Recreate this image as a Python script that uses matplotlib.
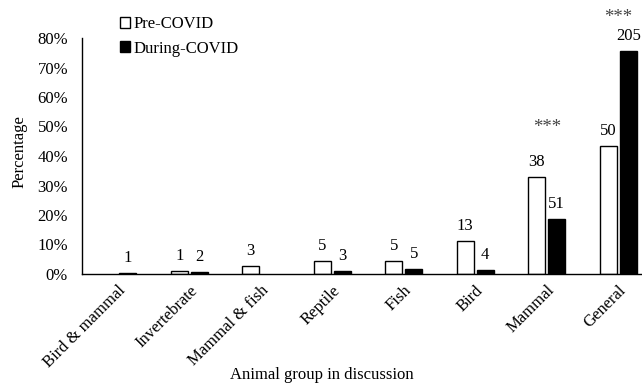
import matplotlib
matplotlib.use("Agg")
import matplotlib.pyplot as plt
from matplotlib.patches import Patch
import numpy as np

plt.rcParams['font.family'] = ['Liberation Serif', 'DejaVu Serif']

categories = ["Bird & mammal", "Invertebrate", "Mammal & fish", "Reptile",
              "Fish", "Bird", "Mammal", "General"]
pre_pct = [0.0, 0.87, 2.6, 4.35, 4.35, 11.3, 33.0, 43.5]
during_pct = [0.37, 0.74, 0.0, 1.1, 1.85, 1.48, 18.8, 75.6]
pre_counts = ["", "1", "3", "5", "5", "13", "38", "50"]
during_counts = ["1", "2", "", "3", "5", "4", "51", "205"]
yticks = [0, 10, 20, 30, 40, 50, 60, 70, 80]
ytick_labels = ["0%", "10%", "20%", "30%", "40%", "50%", "60%", "70%", "80%"]
star_cats = ["Mammal", "General"]
star_y = [49.5, 87.0]

W, H = 642, 383
fig = plt.figure(figsize=(W / 100, H / 100), dpi=100)
ax = fig.add_axes([82 / W, (H - 274) / H, 572 / W, 236 / H])

x = np.arange(len(categories))
bw = 0.24
off = 0.14
fs = 12
lw_pre = [1.0 if v > 0 else 0 for v in pre_pct]
lw_dur = [1.0 if v > 0 else 0 for v in during_pct]
ax.bar(x - off, pre_pct, bw, color="white", edgecolor="black", linewidth=lw_pre)
ax.bar(x + off, during_pct, bw, color="black", edgecolor="black", linewidth=lw_dur)

for xi, v, c in zip(x, pre_pct, pre_counts):
    if c:
        ax.annotate(c, (xi - off, v), xytext=(0, 5), textcoords="offset points",
                    ha="center", va="bottom", fontsize=fs, annotation_clip=False)
for xi, v, c in zip(x, during_pct, during_counts):
    if c:
        ax.annotate(c, (xi + off, v), xytext=(0, 5), textcoords="offset points",
                    ha="center", va="bottom", fontsize=fs, annotation_clip=False)

for cat, yv in zip(star_cats, star_y):
    i = categories.index(cat)
    ax.text(i, yv, "***", ha="center", va="center", fontsize=13.5,
            color="#444444", clip_on=False)

ax.set_xlim(-0.5, len(categories) - 0.5)
ax.set_ylim(0, 80)
ax.set_yticks(yticks)
ax.set_yticklabels(ytick_labels, fontsize=fs)
ax.set_xticks(x)
ax.set_xticklabels(categories, rotation=45, ha="right", rotation_mode="anchor",
                   fontsize=fs)
ax.tick_params(axis="both", length=0)
ax.tick_params(axis="y", pad=10)
ax.tick_params(axis="x", pad=6)
for s in ["top", "right"]:
    ax.spines[s].set_visible(False)
ax.spines["left"].set_linewidth(1.0)
ax.spines["bottom"].set_linewidth(1.0)

fig.text(20 / W, (H - 152) / H, "Percentage", rotation=90, ha="center", va="center", fontsize=fs)
fig.text(322 / W, (H - 375) / H, "Animal group in discussion", ha="center", va="center", fontsize=fs)

handles = [Patch(facecolor="white", edgecolor="black", linewidth=1.0),
           Patch(facecolor="black", edgecolor="black", linewidth=1.0)]
fig.legend(handles, ["Pre-COVID", "During-COVID"], loc="upper left",
           bbox_to_anchor=(117 / W, 1 - 13 / H), frameon=False, fontsize=fs,
           handlelength=0.6, handleheight=0.6, handletextpad=0.2,
           labelspacing=0.5, borderaxespad=0, borderpad=0.2)

fig.savefig("out.png", dpi=100)
